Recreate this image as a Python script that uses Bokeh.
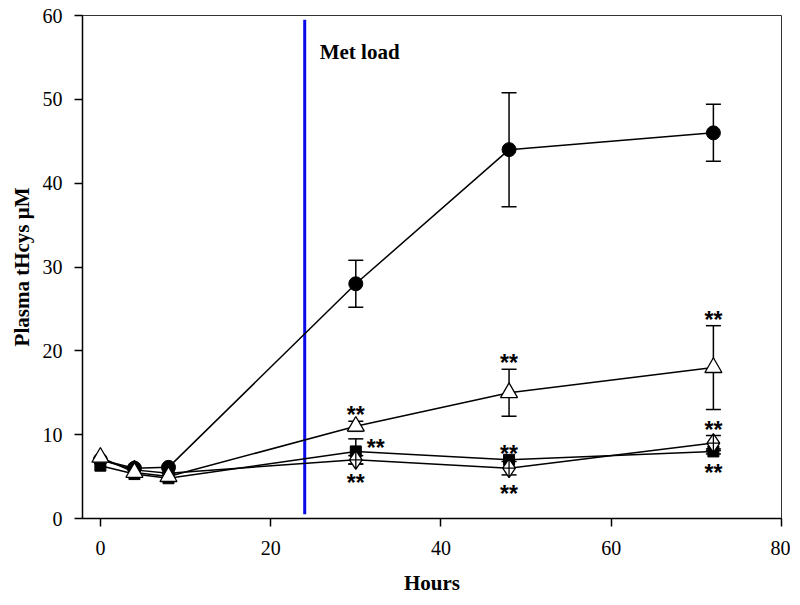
from bokeh.plotting import figure
from bokeh.models import ColumnDataSource, Whisker, TeeHead, Label, FixedTicker
from bokeh.core.properties import value
from bokeh.embed import file_html
from bokeh.resources import INLINE

# ---- data ----
hours = [0, 4, 8, 30, 48, 72]
circle_vals = [7.0, 6.0, 6.1, 28.0, 44.0, 46.0]
circle_err = [0.0, 0.0, 0.0, 2.8, 6.8, 3.4]
tri_vals = [7.3, 5.5, 5.0, 11.0, 15.0, 18.0]
tri_err = [0.0, 0.0, 0.0, 0.6, 2.8, 5.0]
sq_vals = [6.3, 5.3, 4.8, 8.0, 7.0, 8.0]
sq_err = [0.0, 0.0, 0.0, 1.5, 0.0, 0.3]
dia_vals = [7.0, 5.8, 5.4, 7.0, 6.0, 9.0]
dia_err = [0.0, 0.0, 0.0, 0.5, 0.8, 0.9]

met_load_hour = 24
x_ticks = [0, 20, 40, 60, 80]
y_ticks = [0, 10, 20, 30, 40, 50, 60]

# significance marks: (series, hour, side)
star_series = ["tri", "sq", "dia", "tri", "sq", "dia", "tri", "dia", "sq"]
star_hours = [30, 30, 30, 48, 48, 48, 72, 72, 72]
star_side = ["above", "right", "below", "above", "above", "below", "above", "above", "below"]

series = {
    "circle": (circle_vals, circle_err),
    "tri": (tri_vals, tri_err),
    "sq": (sq_vals, sq_err),
    "dia": (dia_vals, dia_err),
}

p = figure(width=790, height=597, x_range=(-2.1, 80), y_range=(0, 60),
           output_backend="svg", toolbar_location=None,
           min_border_left=82, min_border_right=9, min_border_top=15, min_border_bottom=79)
p.xgrid.visible = False
p.ygrid.visible = False
p.outline_line_color = "#333333"
p.outline_line_width = 1
p.background_fill_color = "white"

# Met load line
p.segment(x0=[met_load_hour], y0=[0.5], x1=[met_load_hour], y1=[59.5],
          line_color="#0a0ae6", line_width=3)
p.add_layout(Label(x=met_load_hour, y=55.7, x_offset=15, text="Met load",
                   text_font="Liberation Serif", text_font_style="bold",
                   text_font_size="21px", text_color="black", text_baseline="alphabetic"))

# lines
for key in ["circle", "tri", "sq", "dia"]:
    vals, _ = series[key]
    p.line(hours, vals, line_color="black", line_width=1.5)

# error bars
for key in ["circle", "tri", "sq", "dia"]:
    vals, errs = series[key]
    xs, up, lo = [], [], []
    for h, v, e in zip(hours, vals, errs):
        if e > 0:
            xs.append(h); up.append(v + e); lo.append(v - e)
    src = ColumnDataSource(dict(x=xs, upper=up, lower=lo))
    p.add_layout(Whisker(source=src, base="x", upper="upper", lower="lower",
                         line_color="black", line_width=1.5,
                         upper_head=TeeHead(size=15, line_color="black", line_width=1.5),
                         lower_head=TeeHead(size=15, line_color="black", line_width=1.5)))

# markers
p.scatter(hours, sq_vals, marker="square", size=11, fill_color="black", line_color="black")
p.scatter(hours, dia_vals, marker="diamond_cross", size=19, fill_color="white",
          line_color="black", line_width=1.3)
p.scatter(hours, circle_vals, marker="circle", size=14, fill_color="black", line_color="black")
p.scatter(hours, tri_vals, marker="triangle", size=17, fill_color="white",
          line_color="black", line_width=1.3)

# stars
for side in ["above", "below", "right"]:
    xs, ys = [], []
    for s, h, sd in zip(star_series, star_hours, star_side):
        if sd != side:
            continue
        vals, errs = series[s]
        i = hours.index(h)
        if side == "above":
            ys.append(vals[i] + errs[i])
        elif side == "below":
            ys.append(vals[i] - errs[i])
        else:
            ys.append(vals[i])
        xs.append(h)
    yoff = {"above": -6, "below": 19, "right": -3}[side]
    xoff = {"above": 0, "below": 0, "right": 20}[side]
    p.text(xs, ys, text=["**"] * len(xs), text_font=value("Liberation Sans"),
           text_font_style="bold", text_font_size="23px", text_align="center",
           text_baseline="middle", y_offset=yoff, x_offset=xoff, text_color="black")

# axes
p.xaxis.ticker = FixedTicker(ticks=x_ticks)
p.yaxis.ticker = FixedTicker(ticks=y_ticks)
for ax in [p.xaxis[0], p.yaxis[0]]:
    ax.axis_line_color = "black"
    ax.axis_line_width = 1.5
    ax.major_tick_line_color = "black"
    ax.major_tick_line_width = 1.5
    ax.major_tick_out = 8
    ax.major_tick_in = 0
    ax.minor_tick_line_color = None
    ax.major_label_text_font = "Liberation Serif"
    ax.major_label_text_font_size = "20px"
    ax.major_label_text_color = "black"
    ax.axis_label_text_font = "Liberation Serif"
    ax.axis_label_text_font_style = "bold"
    ax.axis_label_text_font_size = "21px"
    ax.axis_label_text_color = "black"

p.xaxis.axis_label = "Hours"
p.yaxis.axis_label = "Plasma tHcys μM"
p.xaxis.major_label_standoff = 14
p.xaxis.axis_label_standoff = 13
p.yaxis.major_label_standoff = 12
p.yaxis.axis_label_standoff = 6

open("out.html", "w").write(file_html(p, INLINE))
